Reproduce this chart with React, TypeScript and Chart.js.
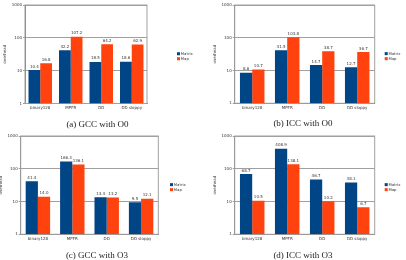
import React, { useEffect, useRef } from "react";
import { Chart, registerables } from "chart.js";
Chart.register(...registerables);

// ---- data ----
const categories = ["binary128", "MPFR", "DD", "DD sloppy"];
const seriesNames = ["Matrix", "Map"];
const gccO0Matrix = [10.4, 42.2, 18.5, 18.6];
const gccO0Map = [16.8, 107.2, 64.2, 62.9];
const iccO0Matrix = [8.6, 41.5, 14.7, 12.7];
const iccO0Map = [10.7, 103.8, 38.7, 36.7];
const gccO3Matrix = [41.4, 166.3, 13.4, 9.5];
const gccO3Map = [14.0, 136.1, 13.2, 12.1];
const iccO3Matrix = [68.7, 408.9, 46.7, 38.1];
const iccO3Map = [10.5, 138.1, 10.2, 6.7];
const yTickValues = [1, 10, 100, 1000];
const yTitle = "overhead";
const captions = ["(a) GCC with O0", "(b) ICC with O0", "(c) GCC with O3", "(d) ICC with O3"];

// ---- style / layout ----
const COLORS = ["#004586", "#ff420e"];
const GRID = "#a0a0a0";
const AXIS = "#808080";
const TEXT = "#333333";
const SANS = "'DejaVu Sans', sans-serif";
const PW = 203;
const PH = 130;
const XH = 10;

type Panel = {
  matrix: number[]; map: number[]; caption: string;
  x: number; y: number; left: number; top: number; right: number; bottom: number;
  titleX: number; legendX: number; capX: number; capY: number; catPct: number;
};

const panels: Panel[] = [
  { matrix: gccO0Matrix, map: gccO0Map, caption: captions[0], x: 0, y: 0, left: 25, top: 5, right: 147, bottom: 103.5, titleX: 5, legendX: 177, capX: 97.5, capY: 124, catPct: 0.77 },
  { matrix: iccO0Matrix, map: iccO0Map, caption: captions[1], x: 203, y: 0, left: 31.7, top: 5, right: 171.7, bottom: 103.3, titleX: 11.7, legendX: 181.7, capX: 100, capY: 123, catPct: 0.7 },
  { matrix: gccO3Matrix, map: gccO3Map, caption: captions[2], x: 0, y: 130, left: 20.7, top: 6, right: 158.3, bottom: 104.3, titleX: 1.2, legendX: 170, capX: 97, capY: 125, catPct: 0.71 },
  { matrix: iccO3Matrix, map: iccO3Map, caption: captions[3], x: 203, y: 130, left: 31.7, top: 6, right: 171.7, bottom: 104.3, titleX: 11.7, legendX: 181.7, capX: 100, capY: 125, catPct: 0.7 },
];

function makeDecor(p: Panel) {
  return {
    id: "decor",
    beforeDatasetsDraw(chart: any) {
      const { ctx, chartArea: a } = chart;
      ctx.save();
      ctx.strokeStyle = GRID;
      ctx.lineWidth = 1;
      ctx.strokeRect(a.left, a.top, a.right - a.left, a.bottom - a.top);
      ctx.restore();
    },
    afterDatasetsDraw(chart: any) {
      const { ctx, chartArea: a } = chart;
      ctx.save();
      // value labels
      ctx.font = `4px ${SANS}`;
      ctx.fillStyle = TEXT;
      ctx.textAlign = "center";
      ctx.textBaseline = "bottom";
      chart.data.datasets.forEach((ds: any, di: number) => {
        const meta = chart.getDatasetMeta(di);
        meta.data.forEach((el: any, i: number) => {
          ctx.fillText(Number(ds.data[i]).toFixed(1), el.x, el.y - 1.5);
        });
      });
      // y title
      const mid = (a.top + a.bottom) / 2;
      ctx.save();
      ctx.translate(p.titleX, mid);
      ctx.rotate(-Math.PI / 2);
      ctx.textBaseline = "middle";
      ctx.font = `4px ${SANS}`;
      ctx.fillText(yTitle, 0, 0);
      ctx.restore();
      // legend
      ctx.font = `3.8px ${SANS}`;
      ctx.textAlign = "left";
      ctx.textBaseline = "middle";
      chart.data.datasets.forEach((ds: any, di: number) => {
        const cy = mid - 0.5 + di * 5;
        ctx.fillStyle = COLORS[di];
        ctx.fillRect(p.legendX, cy - 1.5, 3, 3);
        ctx.fillStyle = TEXT;
        ctx.fillText(ds.label, p.legendX + 3.8, cy);
      });
      ctx.restore();
    },
  };
}

function ChartPanel({ p }: { p: Panel }) {
  const ref = useRef<HTMLCanvasElement>(null);
  useEffect(() => {
    const chart = new Chart(ref.current!, {
      type: "bar",
      data: {
        labels: categories,
        datasets: [
          { label: seriesNames[0], data: p.matrix, backgroundColor: COLORS[0], categoryPercentage: p.catPct, barPercentage: 1 },
          { label: seriesNames[1], data: p.map, backgroundColor: COLORS[1], categoryPercentage: p.catPct, barPercentage: 1 },
        ],
      },
      options: {
        animation: false,
        responsive: false,
        devicePixelRatio: 1,
        layout: { padding: { left: 0, top: p.top, right: PW - p.right, bottom: PH - p.bottom - XH } },
        plugins: { legend: { display: false }, title: { display: false }, tooltip: { enabled: false } },
        scales: {
          x: {
            type: "category",
            grid: { display: false, drawTicks: false },
            border: { display: true, color: AXIS },
            ticks: { padding: 2, color: TEXT, font: { size: 4, family: SANS }, maxRotation: 0, autoSkip: false },
            afterFit: (s: any) => { s.height = XH; },
          },
          y: {
            type: "logarithmic",
            min: 1,
            max: 1000,
            grid: { color: GRID, tickLength: 2, drawTicks: true },
            border: { display: true, color: AXIS },
            ticks: { padding: 1, color: TEXT, font: { size: 4, family: SANS }, callback: (v: any) => String(v) },
            afterBuildTicks: (s: any) => { s.ticks = yTickValues.map((v) => ({ value: v, major: true })); },
            afterFit: (s: any) => { s.width = p.left; },
          },
        },
      },
      plugins: [makeDecor(p)],
    } as any);
    return () => chart.destroy();
  }, [p]);
  return (
    <>
      <canvas ref={ref} width={PW} height={PH} style={{ position: "absolute", left: p.x, top: p.y, width: PW, height: PH }} />
      <div style={{ position: "absolute", left: p.x + p.capX, top: p.y + p.capY - 5, transform: "translateX(-50%)", fontFamily: "'Liberation Serif', serif", fontSize: 9, lineHeight: "10px", color: "#222", whiteSpace: "nowrap" }}>{p.caption}</div>
    </>
  );
}

export default function App() {
  return (
    <div style={{ position: "fixed", left: 0, top: 0, width: 406, height: 260, background: "#fff", overflow: "hidden" }}>
      {panels.map((p, i) => <ChartPanel key={i} p={p} />)}
    </div>
  );
}
